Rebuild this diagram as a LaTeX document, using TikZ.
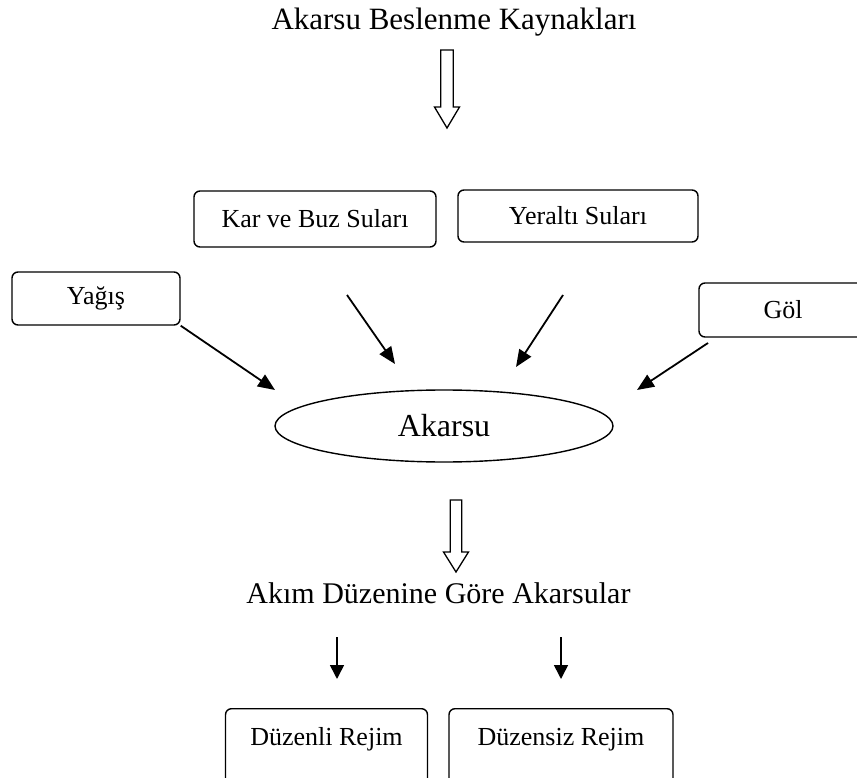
\documentclass[tikz,border=0pt]{standalone}
\usepackage{fontspec}
\setmainfont{Liberation Serif}
\usetikzlibrary{arrows.meta,shapes.geometric}
\begin{document}
\begin{tikzpicture}[x=1pt,y=-1pt,
  rbox/.style={draw,line width=1.4pt,rounded corners=6pt,inner sep=0pt,font=\fontsize{26}{30}\selectfont},
  conn/.style={line width=1.8pt,-{Triangle[length=17pt,width=14pt]}},
  shortconn/.style={line width=1.6pt,-{Triangle[length=14pt,width=14pt]}},
  hollow/.style={draw,line width=1.3pt,fill=white},
  big/.style={font=\fontsize{31}{36}\selectfont,inner sep=0pt}]
\useasboundingbox (0,0) rectangle (857,778);
\clip (0,0) rectangle (857,778);

\node[big,anchor=base] (title) at (454,30) {Akarsu Beslenme Kaynakları};
\path[hollow] (440.7,50) -- (453.3,50) -- (453.3,107) -- (459.5,107) -- (447,128) -- (434.5,107) -- (440.7,107) -- cycle;

\node[rbox,minimum width=242pt,minimum height=56pt] (kar) at (315,219) {Kar ve Buz Suları};
\node[rbox,minimum width=240pt,minimum height=52pt] (yer) at (578,216) {Yeraltı Suları};
\node[rbox,minimum width=168pt,minimum height=53pt] (yagis) at (96,298.5) {Yağış};
\node[rbox,minimum width=168pt,minimum height=54pt] (gol) at (783,310) {Göl};

\node[draw,ellipse,line width=1.4pt,minimum width=338pt,minimum height=72pt,inner sep=0pt,font=\fontsize{32}{36}\selectfont] (ak) at (444,426) {Akarsu};

\coordinate (t1) at (275,390);
\coordinate (s2) at (347,295);
\coordinate (t2) at (395,364);
\coordinate (s3) at (563,295);
\coordinate (t3) at (516,367);
\coordinate (s4) at (708,343);
\coordinate (t4) at (637,390);
\draw[conn] (yagis.south east) -- (t1);
\draw[conn] (s2) -- (t2);
\draw[conn] (s3) -- (t3);
\draw[conn] (s4) -- (t4);

\path[hollow] (450.2,500) -- (461.8,500) -- (461.8,552) -- (468.5,552) -- (456,572) -- (443.5,552) -- (450.2,552) -- cycle;

\node[font=\fontsize{30}{36}\selectfont,inner sep=0pt,anchor=base] (akim) at (438.5,603) {Akım Düzenine Göre Akarsular};

\coordinate (a1) at (337,637);
\coordinate (b1) at (337,679);
\coordinate (a2) at (561,637);
\coordinate (b2) at (561,679);
\draw[shortconn] (a1) -- (b1);
\draw[shortconn] (a2) -- (b2);

\node[rbox,anchor=north,minimum width=202pt,text height=37pt,text depth=55pt] (dz) at (326.5,708) {Düzenli Rejim};
\node[rbox,anchor=north,minimum width=224pt,text height=37pt,text depth=55pt] (dzs) at (561,708) {Düzensiz Rejim};
\end{tikzpicture}
\end{document}
